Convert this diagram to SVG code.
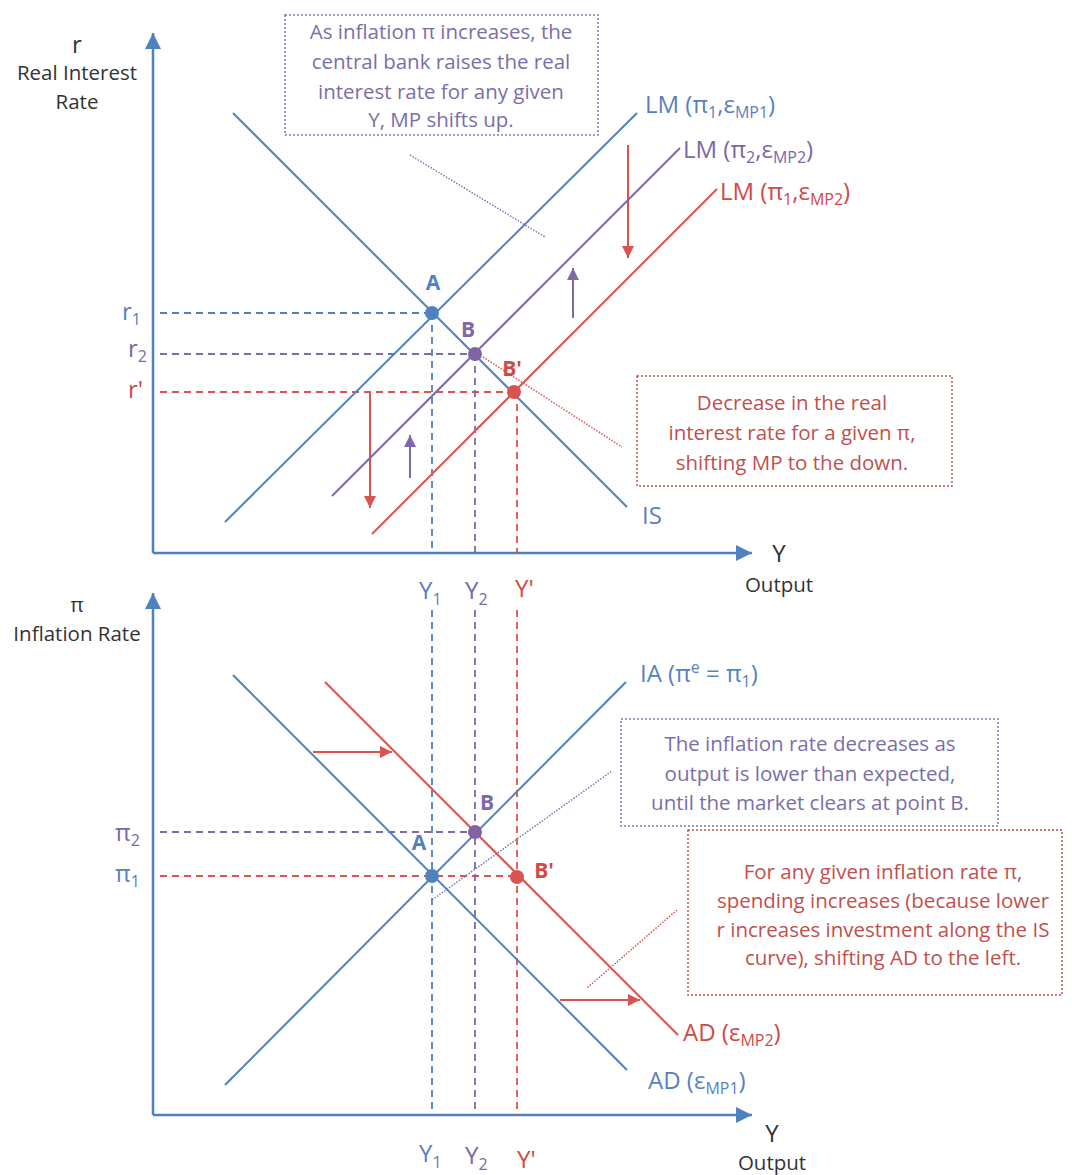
<svg xmlns="http://www.w3.org/2000/svg" width="1072" height="1175" viewBox="0 0 1072 1175">
<defs>
<style>
text{font-family:"Open Sans","Liberation Sans",sans-serif;}
.ax{stroke:#4F81BD;stroke-width:2.5;fill:none}
.blue{stroke:#4F81BD;stroke-width:2;fill:none}
.red{stroke:#D9534F;stroke-width:2;fill:none}
.pur{stroke:#7F68A8;stroke-width:2;fill:none}
.dB{stroke:#4F81BD;stroke-width:1.8;stroke-dasharray:7 5;fill:none}
.dR{stroke:#D9534F;stroke-width:1.8;stroke-dasharray:7 5;fill:none}
.dP{stroke:#7F68A8;stroke-width:1.8;stroke-dasharray:7 5;fill:none}
.dotP{stroke:#7F74B0;stroke-width:1.5;stroke-dasharray:1.5 1.5;fill:none}
.dotR{stroke:#D9534F;stroke-width:1.5;stroke-dasharray:1.5 1.5;fill:none}
.boxP{stroke:#7F74B0;stroke-width:1.5;stroke-dasharray:2 2;fill:#fff}
.boxR{stroke:#C0504D;stroke-width:1.5;stroke-dasharray:2 2;fill:#fff}
.tk{fill:#333;font-size:20.5px;text-anchor:middle}
.tkb{fill:#333;font-size:24px;text-anchor:middle}
.tP{fill:#7A6EA8;font-size:20.5px;text-anchor:middle}
.tR{fill:#C0504D;font-size:20.5px;text-anchor:middle}
.lB{fill:#5A7FC0;font-size:24px}
.lP{fill:#7A68A8;font-size:24px}
.lR{fill:#D04A47;font-size:24px}
.pt{font-size:21px;font-weight:bold;text-anchor:middle}
.sub{font-size:16px}
</style>
<marker id="axArr" viewBox="0 0 16 16" markerWidth="16" markerHeight="16" refX="16" refY="8" orient="auto" markerUnits="userSpaceOnUse"><path d="M0,0 L16,8 L0,16 z" fill="#4F81BD"/></marker>
<marker id="rArr" viewBox="0 0 12 12" markerWidth="12" markerHeight="12" refX="12" refY="6" orient="auto" markerUnits="userSpaceOnUse"><path d="M0,0 L12,6 L0,12 z" fill="#D9534F"/></marker>
<marker id="pArr" viewBox="0 0 12 12" markerWidth="12" markerHeight="12" refX="12" refY="6" orient="auto" markerUnits="userSpaceOnUse"><path d="M0,0 L12,6 L0,12 z" fill="#7F68A8"/></marker>
</defs>
<rect width="1072" height="1175" fill="#fff"/>

<!-- ===== TOP PANEL ===== -->
<g id="top-axes">
<line class="ax" x1="153" y1="553" x2="153" y2="33" marker-end="url(#axArr)"/>
<line class="ax" x1="153" y1="553" x2="752" y2="553" marker-end="url(#axArr)"/>
<text class="tkb" x="77" y="53">r</text>
<text class="tk" x="77" y="80">Real Interest</text>
<text class="tk" x="77" y="109">Rate</text>
<text class="tkb" x="779" y="562">Y</text>
<text class="tk" x="779" y="592">Output</text>
</g>

<g id="top-connectors">
<line class="dB" x1="160" y1="313" x2="432" y2="313"/>
<line class="dP" x1="160" y1="354" x2="475" y2="354"/>
<line class="dR" x1="160" y1="392" x2="514" y2="392"/>
<line class="dB" x1="432" y1="313" x2="432" y2="553"/>
<line class="dP" x1="475" y1="354" x2="475" y2="553"/>
<line class="dR" x1="517" y1="392" x2="517" y2="553"/>
<line class="dotP" x1="410" y1="155" x2="545" y2="237"/>
<line class="dotR" x1="483" y1="357" x2="622" y2="447"/>
<line class="red" x1="628" y1="145" x2="628" y2="258" marker-end="url(#rArr)"/>
<line class="pur" x1="573" y1="318" x2="573" y2="268" marker-end="url(#pArr)"/>
<line class="red" x1="370" y1="392" x2="370" y2="508" marker-end="url(#rArr)"/>
<line class="pur" x1="410" y1="478" x2="410" y2="435" marker-end="url(#pArr)"/>
</g>

<g id="curve-IS"><line class="blue" x1="233" y1="113" x2="627" y2="507"/>
<text class="lB" x="642" y="524">IS</text></g>
<g id="curve-LM1"><line class="blue" x1="225" y1="522" x2="637" y2="113"/>
<text class="lB" x="645" y="113">LM (π<tspan class="sub" dy="5">1</tspan><tspan dy="-5">,ε</tspan><tspan class="sub" dy="5">MP1</tspan><tspan dy="-5">)</tspan></text></g>
<g id="curve-LM2"><line class="pur" x1="332" y1="496" x2="680" y2="148"/>
<text class="lP" x="683" y="158">LM (π<tspan class="sub" dy="5">2</tspan><tspan dy="-5">,ε</tspan><tspan class="sub" dy="5">MP2</tspan><tspan dy="-5">)</tspan></text></g>
<g id="curve-LM3"><line class="red" x1="372" y1="534" x2="717" y2="189"/>
<text class="lR" x="720" y="200">LM (π<tspan class="sub" dy="5">1</tspan><tspan dy="-5">,ε</tspan><tspan class="sub" dy="5">MP2</tspan><tspan dy="-5">)</tspan></text></g>

<g id="top-ticks">
<text class="lB" x="122" y="320">r<tspan class="sub" dy="5">1</tspan></text>
<text class="lP" x="128" y="357">r<tspan class="sub" dy="5">2</tspan></text>
<text class="lR" x="128" y="398">r'</text>
<text class="lB" x="419" y="599">Y<tspan class="sub" dy="6">1</tspan></text>
<text class="lP" x="465" y="599">Y<tspan class="sub" dy="6">2</tspan></text>
<text class="lR" x="515" y="597">Y'</text>
</g>

<g id="top-point-A"><circle cx="432" cy="313" r="7" fill="#4F81BD"/><text class="pt" x="433" y="290" fill="#4F81BD">A</text></g>
<g id="top-point-B"><circle cx="475" cy="354" r="7" fill="#8064A2"/><text class="pt" x="468" y="337" fill="#7F68A8">B</text></g>
<g id="top-point-Bp"><circle cx="514" cy="392" r="7" fill="#D9534F"/><text class="pt" x="512" y="376" fill="#D04A47">B'</text></g>

<g id="note-top">
<rect class="boxP" x="285" y="15" width="313" height="120"/>
<text class="tP" x="441" y="39">As inflation π increases, the</text>
<text class="tP" x="441" y="69">central bank raises the real</text>
<text class="tP" x="441" y="99">interest rate for any given</text>
<text class="tP" x="441" y="127">Y, MP shifts up.</text>
</g>
<g id="note-decrease">
<rect class="boxR" x="637" y="376" width="315" height="110"/>
<text class="tR" x="792" y="410">Decrease in the real</text>
<text class="tR" x="792" y="440">interest rate for a given π,</text>
<text class="tR" x="792" y="470">shifting MP to the down.</text>
</g>

<!-- ===== BOTTOM PANEL ===== -->
<g id="bottom-axes">
<line class="ax" x1="153" y1="1115" x2="153" y2="593" marker-end="url(#axArr)"/>
<line class="ax" x1="153" y1="1115" x2="752" y2="1115" marker-end="url(#axArr)"/>
<text class="tk" x="77" y="612">π</text>
<text class="tk" x="77" y="641">Inflation Rate</text>
<text class="tkb" x="772" y="1142">Y</text>
<text class="tk" x="772" y="1170">Output</text>
</g>

<g id="bottom-connectors">
<line class="dP" x1="160" y1="832" x2="475" y2="832"/>
<line class="dR" x1="160" y1="876" x2="517" y2="876"/>
<line class="dB" x1="432" y1="610" x2="432" y2="1115"/>
<line class="dP" x1="475" y1="610" x2="475" y2="1115"/>
<line class="dR" x1="517" y1="610" x2="517" y2="1115"/>
<line class="dotP" x1="432" y1="900" x2="612" y2="771"/>
<line class="dotR" x1="677" y1="910" x2="587" y2="988"/>
<line class="red" x1="313" y1="752" x2="392" y2="752" marker-end="url(#rArr)"/>
<line class="red" x1="560" y1="1000" x2="640" y2="1000" marker-end="url(#rArr)"/>
</g>

<g id="curve-AD1"><line class="blue" x1="233" y1="675" x2="627" y2="1070"/>
<text class="lB" x="648" y="1089">AD (ε<tspan class="sub" dy="5">MP1</tspan><tspan dy="-5">)</tspan></text></g>
<g id="curve-IA"><line class="blue" x1="225" y1="1085" x2="626" y2="682"/>
<text class="lB" x="640" y="682">IA (π<tspan class="sub" dy="-9">e</tspan><tspan dy="9"> = π</tspan><tspan class="sub" dy="5">1</tspan><tspan dy="-5">)</tspan></text></g>
<g id="curve-AD2"><line class="red" x1="325" y1="682" x2="678" y2="1035"/>
<text class="lR" x="683" y="1041">AD (ε<tspan class="sub" dy="5">MP2</tspan><tspan dy="-5">)</tspan></text></g>

<g id="bottom-ticks">
<text class="lP" x="115" y="841">π<tspan class="sub" dy="5">2</tspan></text>
<text class="lB" x="115" y="882">π<tspan class="sub" dy="5">1</tspan></text>
<text class="lB" x="419" y="1162">Y<tspan class="sub" dy="6">1</tspan></text>
<text class="lP" x="465" y="1164">Y<tspan class="sub" dy="6">2</tspan></text>
<text class="lR" x="517" y="1168">Y'</text>
</g>

<g id="bottom-point-A"><circle cx="432" cy="876" r="7" fill="#4F81BD"/><text class="pt" x="419" y="850" fill="#4F81BD">A</text></g>
<g id="bottom-point-B"><circle cx="475" cy="832" r="7" fill="#8064A2"/><text class="pt" x="487" y="810" fill="#7F68A8">B</text></g>
<g id="bottom-point-Bp"><circle cx="517" cy="877" r="7" fill="#D9534F"/><text class="pt" x="544" y="878" fill="#D04A47">B'</text></g>

<g id="note-inflation">
<rect class="boxP" x="621" y="719" width="377" height="107"/>
<text class="tP" x="810" y="751">The inflation rate decreases as</text>
<text class="tP" x="810" y="781">output is lower than expected,</text>
<text class="tP" x="810" y="810">until the market clears at point  B.</text>
</g>
<g id="note-spending">
<rect class="boxR" x="688" y="830" width="374" height="165"/>
<text class="tR" x="883" y="879">For any given inflation rate π,</text>
<text class="tR" x="883" y="908">spending increases (because lower</text>
<text class="tR" x="883" y="937">r increases investment along the IS</text>
<text class="tR" x="883" y="965">curve), shifting AD to the left.</text>
</g>
</svg>
